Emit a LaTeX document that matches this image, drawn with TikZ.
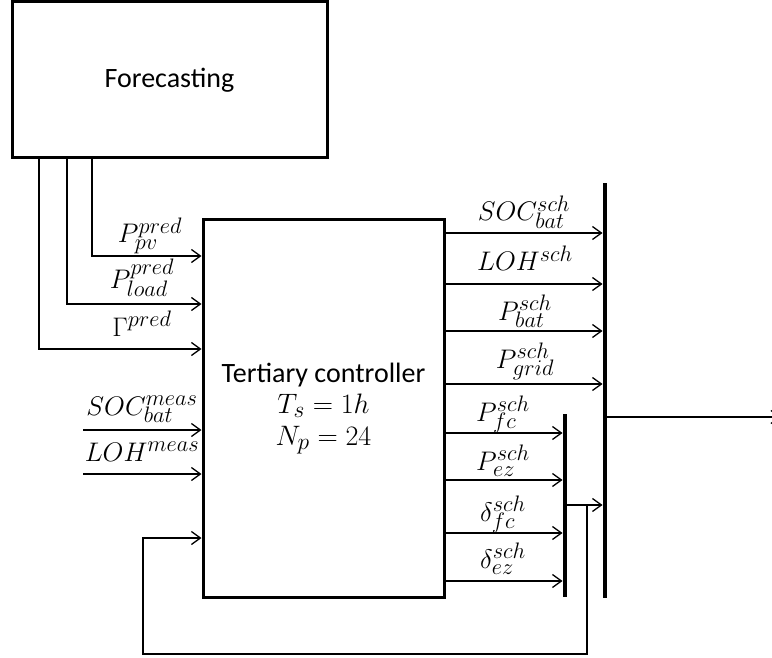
\documentclass[tikz,border=0pt]{standalone}
\usepackage{fontspec}
\newfontfamily\calfont{Carlito}
\usetikzlibrary{arrows.meta}
\newcommand\lbx[1]{\scalebox{1.08}{#1}}
\newcommand\cmx[1]{\scalebox{1.13}{#1}}
\tikzset{
  box/.style={draw, line width=3pt, rectangle, inner sep=0pt},
  arr/.style={line width=1.3pt, -{Straight Barb[length=9pt,width=13pt,line width=1.3pt]}},
  busbar/.style={fill=black, draw=none, rectangle, inner sep=0pt, minimum width=4.5pt},
  lab/.style={anchor=base, inner sep=0pt, font=\fontsize{24.88}{28}\selectfont},
}
\begin{document}
\begin{tikzpicture}[x=1pt,y=-1pt]
\clip (0,0) rectangle (772,658);
% blocks
\node[box, minimum width=315pt, minimum height=156pt, font=\calfont\fontsize{28}{32}\selectfont] (fc) at (169.5,80) {Forecasting};
\node[box, minimum width=241pt, minimum height=377pt, align=center, font=\fontsize{24.88}{32}\selectfont] (ctrl) at (323.5,408.5)
  {{\calfont\fontsize{28}{32}\selectfont Tertiary controller}\\[-1pt] \cmx{$T_s=1h$}\\[0pt] \cmx{$N_p=24$}};
% bars
\node[busbar, minimum height=415pt] (B1) at (605,390.5) {};
\node[busbar, minimum height=183pt] (B2) at (565,505.5) {};
% forecasting outputs
\coordinate (f1) at (39,158);
\coordinate (f2) at (67,158);
\coordinate (f3) at (92,158);
\draw[arr] (f3) |- (ctrl.west |- 0,256);
\draw[arr] (f2) |- (ctrl.west |- 0,304);
\draw[arr] (f1) |- (ctrl.west |- 0,349);
\node[lab] (lpv) at (150,243) {\lbx{$P_{pv}^{pred}$}};
\node[lab] (lload) at (142,288) {\lbx{$P_{load}^{pred}$}};
\node[lab] (lgam) at (142,336) {\lbx{$\Gamma^{pred}$}};
% measured inputs
\coordinate (m1) at (83,430);
\coordinate (m2) at (83,474);
\draw[arr] (m1) -- (ctrl.west |- m1);
\draw[arr] (m2) -- (ctrl.west |- m2);
\node[lab] (lsocm) at (142,415) {\lbx{$SOC_{bat}^{meas}$}};
\node[lab] (llohm) at (142,461) {\lbx{$LOH^{meas}$}};
% outputs to big bar
\foreach \y in {233,284,331,384}{
  \draw[arr] (ctrl.east |- 0,\y) -- (B1.west |- 0,\y);
}
\node[lab] (lsoc) at (524,221) {\lbx{$SOC_{bat}^{sch}$}};
\node[lab] (lloh) at (525,271) {\lbx{$LOH^{sch}$}};
\node[lab] (lpbat) at (525,320) {\lbx{$P_{bat}^{sch}$}};
\node[lab] (lpgrid) at (525,368) {\lbx{$P_{grid}^{sch}$}};
% outputs to small bar
\foreach \y in {433,480,533,581}{
  \draw[arr] (ctrl.east |- 0,\y) -- (B2.west |- 0,\y);
}
\node[lab] (lpfc) at (503,421) {\lbx{$P_{fc}^{sch}$}};
\node[lab] (lpez) at (503,470) {\lbx{$P_{ez}^{sch}$}};
\node[lab] (ldfc) at (503,521) {\lbx{$\delta_{fc}^{sch}$}};
\node[lab] (ldez) at (503,568) {\lbx{$\delta_{ez}^{sch}$}};
% small bar to big bar
\draw[arr] (B2.east |- 0,505) -- (B1.west |- 0,505);
% feedback
\coordinate (fb) at (587,505);
\draw[arr] (fb) -- (587,654) -- (143,654) -- (143,538) -- (ctrl.west |- 0,538);
% output
\coordinate (out) at (781,417);
\draw[arr] (B1.east |- 0,417) -- (out);
\end{tikzpicture}
\end{document}
